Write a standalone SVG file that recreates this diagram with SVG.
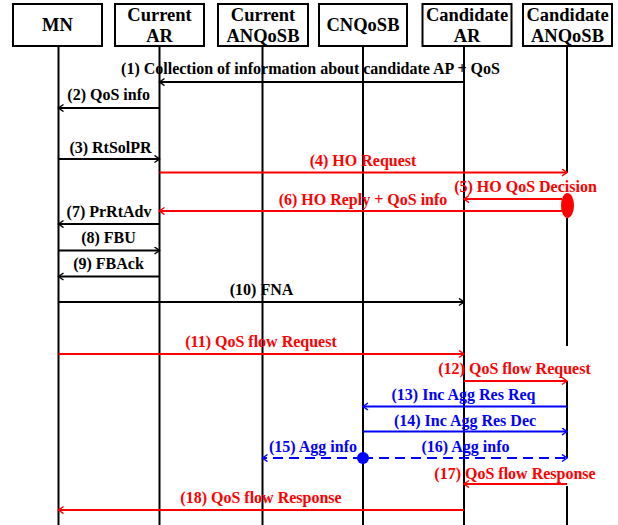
<svg xmlns="http://www.w3.org/2000/svg" width="618" height="525" viewBox="0 0 618 525">
<style>
text{font-family:"Liberation Serif","Times New Roman",serif;font-weight:bold;}
.hd{font-size:18.5px;text-anchor:middle;fill:#000;}
.box{fill:#fff;stroke:#000;stroke-width:2;}
.life{stroke:#000;stroke-width:2;fill:none;}
.lb{font-size:16px;text-anchor:middle;}
.k{fill:#000;} .r{fill:#ff0000;} .b{fill:#0000ff;}
.mk{stroke:#000;stroke-width:2;fill:none;}
.mr{stroke:#ff0000;stroke-width:2;fill:none;}
.mb{stroke:#0000ff;stroke-width:2;fill:none;}
.dash{stroke-dasharray:10 6;}
</style>
<defs>
<marker id="ak" markerUnits="userSpaceOnUse" markerWidth="8" markerHeight="10" refX="6" refY="4" orient="auto"><path d="M1,0.5 L6,4 L1,7.5" fill="none" stroke="#000" stroke-width="1.5"/></marker>
<marker id="ar" markerUnits="userSpaceOnUse" markerWidth="8" markerHeight="10" refX="6" refY="4" orient="auto"><path d="M1,0.5 L6,4 L1,7.5" fill="none" stroke="#ff0000" stroke-width="1.5"/></marker>
<marker id="ab" markerUnits="userSpaceOnUse" markerWidth="8" markerHeight="10" refX="6" refY="4" orient="auto"><path d="M1,0.5 L6,4 L1,7.5" fill="none" stroke="#0000ff" stroke-width="1.5"/></marker>
</defs>
<rect width="618" height="525" fill="#fff"/>
<g id="MN">
<line class="life" x1="58.5" y1="46" x2="58.5" y2="525"/>
<rect class="box" x="13" y="4" width="89" height="42"/>
<text class="hd" x="57.5" y="31">MN</text>
</g>
<g id="CurrentAR">
<line class="life" x1="159.5" y1="46" x2="159.5" y2="525"/>
<rect class="box" x="115" y="4" width="89" height="42"/>
<text class="hd" x="159.5" y="20.5">Current</text>
<text class="hd" x="159.5" y="41.5">AR</text>
</g>
<g id="CurrentANQoSB">
<line class="life" x1="262.5" y1="46" x2="262.5" y2="525"/>
<rect class="box" x="218" y="4" width="90" height="42"/>
<text class="hd" x="263" y="20.5">Current</text>
<text class="hd" x="263" y="41.5">ANQoSB</text>
</g>
<g id="CNQoSB">
<line class="life" x1="363" y1="46" x2="363" y2="525"/>
<rect class="box" x="319" y="4" width="88" height="42"/>
<text class="hd" x="363" y="31">CNQoSB</text>
</g>
<g id="CandidateAR">
<line class="life" x1="464" y1="46" x2="464" y2="525"/>
<rect class="box" x="422.5" y="4" width="89" height="42"/>
<text class="hd" x="467" y="20.5">Candidate</text>
<text class="hd" x="467" y="41.5">AR</text>
</g>
<g id="CandidateANQoSB">
<path class="life" d="M567,46 V173 M567,218 V346 M567,381 V458 M567,486 V525"/>
<rect class="box" x="523" y="4" width="89" height="42"/>
<text class="hd" x="567.5" y="20.5">Candidate</text>
<text class="hd" x="567.5" y="41.5">ANQoSB</text>
<ellipse cx="567.5" cy="205.5" rx="6.5" ry="12.5" fill="#ff0000"/>
</g>
<g id="connectors">
<line class="mk" x1="464" y1="82" x2="159.5" y2="82" marker-end="url(#ak)"/>
<line class="mk" x1="159.5" y1="108" x2="58.5" y2="108" marker-end="url(#ak)"/>
<line class="mk" x1="58.5" y1="159" x2="159.5" y2="159" marker-end="url(#ak)"/>
<line class="mr" x1="159.5" y1="172.5" x2="567" y2="172.5" marker-end="url(#ar)"/>
<line class="mr" x1="562" y1="199" x2="464" y2="199" marker-end="url(#ar)"/>
<line class="mr" x1="562" y1="211" x2="159.5" y2="211" marker-end="url(#ar)"/>
<line class="mk" x1="159.5" y1="224" x2="58.5" y2="224" marker-end="url(#ak)"/>
<line class="mk" x1="58.5" y1="250.5" x2="159.5" y2="250.5" marker-end="url(#ak)"/>
<line class="mk" x1="159.5" y1="276.5" x2="58.5" y2="276.5" marker-end="url(#ak)"/>
<line class="mk" x1="58.5" y1="302" x2="464" y2="302" marker-end="url(#ak)"/>
<line class="mr" x1="58.5" y1="354" x2="464" y2="354" marker-end="url(#ar)"/>
<line class="mr" x1="464" y1="381" x2="567" y2="381" marker-end="url(#ar)"/>
<line class="mb" x1="567" y1="406.5" x2="363" y2="406.5" marker-end="url(#ab)"/>
<line class="mb" x1="363" y1="431.5" x2="567" y2="431.5" marker-end="url(#ab)"/>
<line class="mb dash" x1="363" y1="458" x2="262.5" y2="458" marker-end="url(#ab)"/>
<line class="mb dash" x1="363" y1="458" x2="567" y2="458" marker-end="url(#ab)"/>
<circle cx="363" cy="458" r="6" fill="#0000ff"/>
<line class="mr" x1="567" y1="484" x2="464" y2="484" marker-end="url(#ar)"/>
<line class="mr" x1="464" y1="510" x2="58.5" y2="510" marker-end="url(#ar)"/>
</g>
<g id="labels">
<text class="lb k" x="310.5" y="74">(1) Collection of information about candidate AP + QoS</text>
<text class="lb k" x="108.7" y="100">(2) QoS info</text>
<text class="lb k" x="110.5" y="153">(3) RtSolPR</text>
<text class="lb r" x="363" y="166">(4) HO Request</text>
<text class="lb r" x="525.5" y="192">(5) HO QoS Decision</text>
<text class="lb r" x="363" y="204.5">(6) HO Reply + QoS info</text>
<text class="lb k" x="109" y="217">(7) PrRtAdv</text>
<text class="lb k" x="108.5" y="243">(8) FBU</text>
<text class="lb k" x="108.5" y="268.5">(9) FBAck</text>
<text class="lb k" x="261.5" y="295">(10) FNA</text>
<text class="lb r" x="261" y="347">(11) QoS flow Request</text>
<text class="lb r" x="514.5" y="374">(12) QoS flow Request</text>
<text class="lb b" x="463.5" y="399.5">(13) Inc Agg Res Req</text>
<text class="lb b" x="465" y="426">(14) Inc Agg Res Dec</text>
<text class="lb b" x="313" y="452">(15) Agg info</text>
<text class="lb b" x="465.5" y="452">(16) Agg info</text>
<text class="lb r" x="515" y="479">(17) QoS flow Response</text>
<text class="lb r" x="261" y="503">(18) QoS flow Response</text>
</g>
</svg>
